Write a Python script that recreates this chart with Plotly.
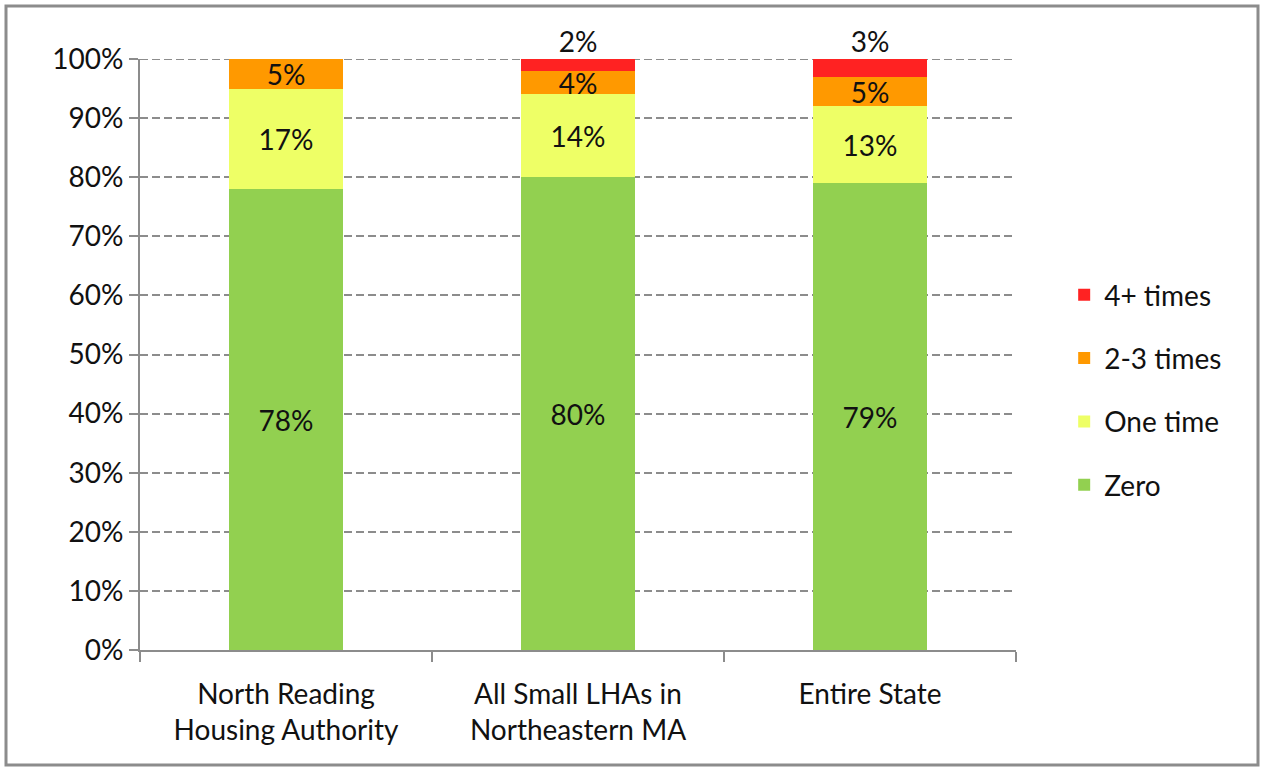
import plotly.graph_objects as go

categories = ["North Reading<br>Housing Authority", "All Small LHAs in<br>Northeastern MA", "Entire State"]
zero = [78, 80, 79]
one_time = [17, 14, 13]
two_three = [5, 4, 5]
four_plus = [0, 2, 3]

series = [
    ("Zero", zero, "#92D050"),
    ("One time", one_time, "#EEFF66"),
    ("2-3 times", two_three, "#FF9900"),
    ("4+ times", four_plus, "#FF2222"),
]

FONT = "Lato"
FS = 28
W, H = 1265, 770
ML, MR, MT, MB = 140, 249, 59, 120
GRID = "#8C8C8C"

fig = go.Figure()
n = len(series)
for i, (name, vals, color) in enumerate(series):
    inside = name != "4+ times"
    fig.add_trace(go.Bar(
        x=categories, y=vals, name=name, marker=dict(color=color, line=dict(width=0)),
        text=[f"{v}%" for v in vals] if inside else None,
        textposition="inside" if inside else "none",
        insidetextanchor="middle", textangle=0, constraintext="none",
        textfont=dict(family=FONT, size=FS, color="#111111"),
        legendgroup=name, legendrank=n - i, width=0.39, hoverinfo="skip",
    ))

totals = [a + b + c + d for a, b, c, d in zip(zero, one_time, two_three, four_plus)]
fig.add_trace(go.Scatter(
    x=categories, y=totals, mode="text",
    text=[f"{v}%" if v > 0 else "" for v in four_plus],
    textposition="top center", textfont=dict(family=FONT, size=FS, color="#111111"),
    showlegend=False, cliponaxis=False, hoverinfo="skip",
))

pw = W - ML - MR
ph = H - MT - MB
# outer chart border
fig.add_shape(type="rect", xref="paper", yref="paper",
              x0=(6 - ML) / pw, x1=(1258 - ML) / pw,
              y0=(H - MB - 765) / ph, y1=(H - MB - 6) / ph,
              line=dict(color="#8C8C8C", width=3), layer="below")
# top gridline at 100%
fig.add_shape(type="line", xref="paper", yref="y", x0=0, x1=1, y0=100, y1=100,
              line=dict(color=GRID, width=2, dash="8px,4px"), layer="below")

fig.update_layout(
    width=W, height=H, barmode="stack", bargap=0.61,
    margin=dict(l=ML, r=MR, t=MT, b=MB),
    plot_bgcolor="white", paper_bgcolor="white",
    font=dict(family=FONT, size=FS, color="#111111"),
    legend=dict(x=1.055, xanchor="left", y=0.44, yanchor="middle",
                traceorder="grouped", tracegroupgap=24,
                font=dict(family=FONT, size=FS, color="#111111"),
                bgcolor="rgba(0,0,0,0)"),
    xaxis=dict(range=[-0.5, 2.5], showline=True, linecolor=GRID, linewidth=2,
               ticks="outside", tickson="boundaries", ticklen=10, tickcolor=GRID,
               tickwidth=2, showgrid=False, fixedrange=True, ticklabelstandoff=18,
               tickfont=dict(family=FONT, size=FS, color="#111111")),
    yaxis=dict(range=[0, 100], tickvals=list(range(0, 101, 10)),
               ticktext=[f"{v}%" for v in range(0, 101, 10)],
               showline=True, linecolor=GRID, linewidth=2,
               ticks="outside", ticklen=9, tickcolor=GRID, tickwidth=2,
               showgrid=True, gridcolor=GRID, gridwidth=2, griddash="8px,4px",
               zeroline=False, fixedrange=True,
               tickfont=dict(family=FONT, size=FS, color="#111111")),
)

fig.write_html("out.html", config={"displayModeBar": False},
               post_script="document.body.style.margin='0';document.body.style.overflow='hidden';")
